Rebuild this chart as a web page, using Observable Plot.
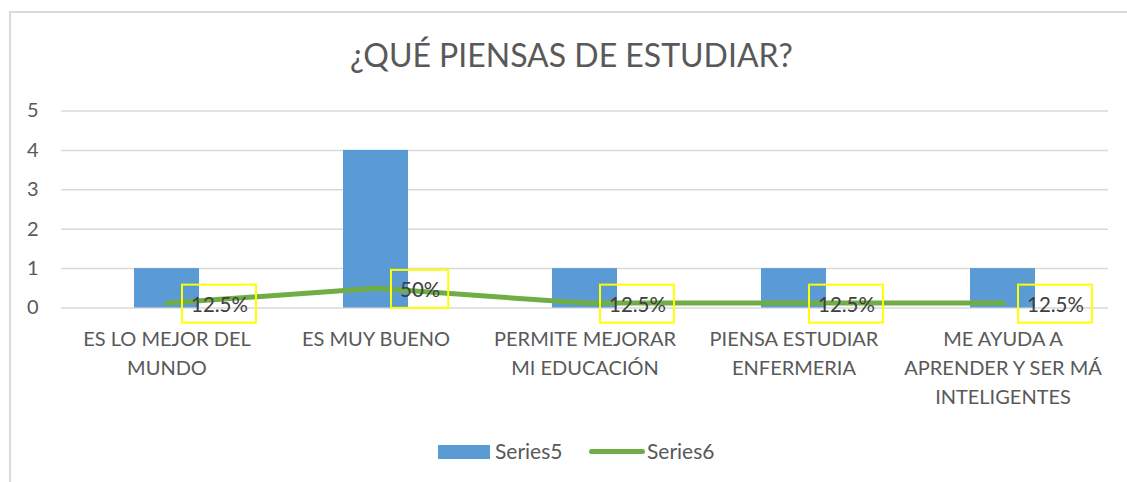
<!DOCTYPE html>
<html><head><meta charset="utf-8">
<script src="https://cdn.jsdelivr.net/npm/d3@7"></script>
<script src="https://cdn.jsdelivr.net/npm/@observablehq/plot@0.6"></script>
<style>
body{margin:0;background:#fff;}
#wrap{position:relative;width:1127px;height:482px;overflow:hidden;font-family:Lato,"Noto Sans",sans-serif;}
#border{position:absolute;left:9px;top:11px;width:1300px;height:700px;border:2px solid #d9d9d9;box-sizing:border-box;}
#chart{position:absolute;left:0;top:0;}
.leg{position:absolute;}
.legtxt{position:absolute;font-size:21px;color:#595959;line-height:22px;top:440px;white-space:nowrap;}
</style>
</head><body>
<div id="wrap">
  <div id="border"></div>
  <div id="chart"></div>
  <div class="leg" style="left:438px;top:445px;width:52px;height:14px;background:#5B9BD5"></div>
  <div class="legtxt" style="left:495px" id="l5"></div>
  <div class="leg" style="left:589px;top:449px;width:56px;height:5px;border-radius:3px;background:#70AD47"></div>
  <div class="legtxt" style="left:647px" id="l6"></div>
</div>
<script>
const title = "¿QUÉ PIENSAS DE ESTUDIAR?";
const categories = ["ES LO MEJOR DEL MUNDO", "ES MUY BUENO", "PERMITE MEJORAR MI EDUCACIÓN", "PIENSA ESTUDIAR ENFERMERIA", "ME AYUDA A APRENDER Y SER MÁ INTELIGENTES"];
const tickLabels = ["ES LO MEJOR DEL\nMUNDO", "ES MUY BUENO", "PERMITE MEJORAR\nMI EDUCACIÓN", "PIENSA ESTUDIAR\nENFERMERIA", "ME AYUDA A\nAPRENDER Y SER MÁ\nINTELIGENTES"];
const seriesNames = ["Series5", "Series6"];
const series5 = [1, 4, 1, 1, 1];
const series6 = [0.125, 0.5, 0.125, 0.125, 0.125];
const series6Labels = ["12.5%", "50%", "12.5%", "12.5%", "12.5%"];
const yTicks = [0, 1, 2, 3, 4, 5];

const data = categories.map((c, i) => ({cat: c, s5: series5[i], s6: series6[i], lab: series6Labels[i]}));

document.getElementById("l5").textContent = seriesNames[0];
document.getElementById("l6").textContent = seriesNames[1];

const chart = Plot.plot({
  width: 1127, height: 482,
  marginLeft: 61, marginRight: 19, marginTop: 110.5, marginBottom: 174.5,
  x: {domain: categories, padding: 0, axis: null},
  y: {domain: [0, 5], axis: null},
  style: {fontFamily: "Lato, 'Noto Sans', sans-serif", fontSize: "20px", color: "#595959", background: "transparent"},
  marks: [
    Plot.gridY(yTicks, {stroke: "#d9d9d9", strokeOpacity: 1, strokeWidth: 1.5}),
    Plot.axisY(yTicks, {tickSize: 0, tickPadding: 23, fontSize: 20, fill: "#595959", label: null}),
    Plot.axisX({tickSize: 0, tickPadding: 18, tickFormat: d => tickLabels[categories.indexOf(d)], lineHeight: 1.44, fontSize: 20, fill: "#595959", label: null}),
    Plot.barY(data, {x: "cat", y: "s5", fill: "#5B9BD5", insetLeft: 72, insetRight: 72}),
    Plot.lineY(data, {x: "cat", y: "s6", stroke: "#70AD47", strokeWidth: 5, strokeLinecap: "round", strokeLinejoin: "round"}),
    Plot.text(data, {x: "cat", y: "s6", text: "lab", textAnchor: "start", dx: 24, dy: 2, fill: "#404040", fontSize: 20.5}),
    Plot.text([title], {frameAnchor: "top", dx: -13.5, dy: -67, fontSize: 32, fill: "#595959"})
  ]
});
document.getElementById("chart").append(chart);

// yellow frames around the data labels, sized from the rendered text
const svgNS = "http://www.w3.org/2000/svg";
const labelSet = new Set(series6Labels);
chart.querySelectorAll("text").forEach(t => {
  if (!labelSet.has(t.textContent)) return;
  const b = t.getBBox();
  const r = document.createElementNS(svgNS, "rect");
  r.setAttribute("x", b.x - 9);
  r.setAttribute("width", b.width + 17);
  r.setAttribute("y", b.y + b.height / 2 - 19);
  r.setAttribute("height", 38);
  r.setAttribute("fill", "none");
  r.setAttribute("stroke", "#FFFF00");
  r.setAttribute("stroke-width", 2);
  if (t.getAttribute("transform")) r.setAttribute("transform", t.getAttribute("transform"));
  t.parentNode.insertBefore(r, t);
});
</script>
</body></html>
